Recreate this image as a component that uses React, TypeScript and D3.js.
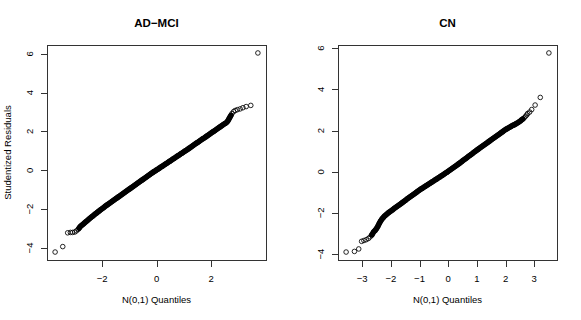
import * as d3 from "d3";

// [theoretical quantile, studentized residual].
// "band" = the dense run where the circles overlap into a solid stroke.
const adMciLowTail: [number, number][] = [
  [-3.72, -4.21], [-3.44, -3.93], [-3.26, -3.22], [-3.16, -3.2], [-3.08, -3.2],
  [-3.0, -3.18], [-2.94, -3.12], [-2.88, -3.05],
];
const adMciBand: [number, number][] = [
  [-2.84, -2.98],
  [-2.8, -2.9], [-2.75, -2.84], [-2.7, -2.78], [-2.65, -2.72], [-2.6, -2.66],
  [-2.55, -2.6], [-2.5, -2.54], [-2.45, -2.48], [-2.4, -2.42], [-2.35, -2.37],
  [-2.3, -2.31], [-2.25, -2.25], [-2.2, -2.2], [-2.15, -2.14], [-2.1, -2.09],
  [-2.05, -2.03], [-2.0, -1.98], [-1.95, -1.93], [-1.9, -1.87], [-1.85, -1.82],
  [-1.8, -1.77], [-1.75, -1.72], [-1.7, -1.67], [-1.65, -1.62], [-1.6, -1.57],
  [-1.55, -1.52], [-1.5, -1.47], [-1.45, -1.42], [-1.4, -1.37], [-1.35, -1.32],
  [-1.3, -1.27], [-1.25, -1.22], [-1.2, -1.17], [-1.15, -1.12], [-1.1, -1.07],
  [-1.05, -1.02], [-1.0, -0.97], [-0.95, -0.92], [-0.9, -0.87], [-0.85, -0.82],
  [-0.8, -0.77], [-0.75, -0.72], [-0.7, -0.67], [-0.65, -0.62], [-0.6, -0.57],
  [-0.55, -0.52], [-0.5, -0.47], [-0.45, -0.42], [-0.4, -0.37], [-0.35, -0.32],
  [-0.3, -0.27], [-0.25, -0.22], [-0.2, -0.17], [-0.15, -0.12], [-0.1, -0.07],
  [-0.05, -0.03], [0.0, 0.02], [0.05, 0.06], [0.1, 0.11], [0.15, 0.16],
  [0.2, 0.2], [0.25, 0.25], [0.3, 0.3], [0.35, 0.34], [0.4, 0.39],
  [0.45, 0.44], [0.5, 0.48], [0.55, 0.53], [0.6, 0.58], [0.65, 0.62],
  [0.7, 0.67], [0.75, 0.72], [0.8, 0.76], [0.85, 0.81], [0.9, 0.86],
  [0.95, 0.9], [1.0, 0.95], [1.05, 1.0], [1.1, 1.04], [1.15, 1.09],
  [1.2, 1.14], [1.25, 1.19], [1.3, 1.24], [1.35, 1.29], [1.4, 1.34],
  [1.45, 1.39], [1.5, 1.43], [1.55, 1.48], [1.6, 1.53], [1.65, 1.58],
  [1.7, 1.63], [1.75, 1.67], [1.8, 1.72], [1.85, 1.77], [1.9, 1.82],
  [1.95, 1.87], [2.0, 1.92], [2.05, 1.97], [2.1, 2.01], [2.15, 2.06],
  [2.2, 2.11], [2.25, 2.16], [2.3, 2.21], [2.35, 2.26], [2.4, 2.31],
  [2.45, 2.36], [2.5, 2.4], [2.55, 2.45],
  [2.6, 2.52], [2.64, 2.62], [2.68, 2.72], [2.72, 2.82],
];
const adMciHighTail: [number, number][] = [
  [2.76, 2.92], [2.82, 3.02], [2.88, 3.08], [2.96, 3.12], [3.06, 3.16],
  [3.16, 3.22], [3.28, 3.28], [3.45, 3.34], [3.71, 6.04],
];

const cnLowTail: [number, number][] = [
  [-3.56, -3.9], [-3.27, -3.87], [-3.12, -3.75], [-3.02, -3.38], [-2.94, -3.34],
  [-2.86, -3.3], [-2.78, -3.24], [-2.72, -3.16],
];
const cnBand: [number, number][] = [
  [-2.66, -3.06],
  [-2.6, -2.92], [-2.55, -2.85], [-2.5, -2.76], [-2.45, -2.64], [-2.4, -2.5],
  [-2.35, -2.38], [-2.3, -2.28], [-2.25, -2.2], [-2.2, -2.13], [-2.15, -2.07],
  [-2.1, -2.01], [-2.05, -1.96], [-2.0, -1.91], [-1.95, -1.86], [-1.9, -1.8],
  [-1.85, -1.75], [-1.8, -1.7], [-1.75, -1.65], [-1.7, -1.6], [-1.65, -1.55],
  [-1.6, -1.5], [-1.55, -1.45], [-1.5, -1.4], [-1.45, -1.34], [-1.4, -1.29],
  [-1.35, -1.24], [-1.3, -1.19], [-1.25, -1.14], [-1.2, -1.09], [-1.15, -1.04],
  [-1.1, -0.99], [-1.05, -0.94], [-1.0, -0.89], [-0.95, -0.84], [-0.9, -0.8],
  [-0.85, -0.75], [-0.8, -0.71], [-0.75, -0.66], [-0.7, -0.62], [-0.65, -0.57],
  [-0.6, -0.53], [-0.55, -0.48], [-0.5, -0.44], [-0.45, -0.39], [-0.4, -0.35],
  [-0.35, -0.3], [-0.3, -0.26], [-0.25, -0.21], [-0.2, -0.17], [-0.15, -0.12],
  [-0.1, -0.07], [-0.05, -0.03], [0.0, 0.02], [0.05, 0.07], [0.1, 0.12],
  [0.15, 0.17], [0.2, 0.22], [0.25, 0.27], [0.3, 0.32], [0.35, 0.37],
  [0.4, 0.42], [0.45, 0.47], [0.5, 0.53], [0.55, 0.58], [0.6, 0.63],
  [0.65, 0.68], [0.7, 0.74], [0.75, 0.79], [0.8, 0.84], [0.85, 0.89],
  [0.9, 0.95], [0.95, 1.0], [1.0, 1.05], [1.05, 1.1], [1.1, 1.15],
  [1.15, 1.2], [1.2, 1.25], [1.25, 1.3], [1.3, 1.35], [1.35, 1.4],
  [1.4, 1.45], [1.45, 1.5], [1.5, 1.55], [1.55, 1.6], [1.6, 1.65],
  [1.65, 1.7], [1.7, 1.75], [1.75, 1.8], [1.8, 1.85], [1.85, 1.9],
  [1.9, 1.95], [1.95, 2.0], [2.0, 2.05], [2.05, 2.09], [2.1, 2.13],
  [2.15, 2.17], [2.2, 2.21], [2.25, 2.25], [2.3, 2.28], [2.35, 2.32],
  [2.4, 2.36], [2.45, 2.4], [2.5, 2.45], [2.55, 2.51], [2.6, 2.56],
];
const cnHighTail: [number, number][] = [
  [2.65, 2.62], [2.7, 2.7], [2.74, 2.76], [2.77, 2.83],
  [2.84, 2.9], [2.91, 3.02], [3.03, 3.24], [3.21, 3.61], [3.51, 5.77],
];

const adMciXTicks = [-2, 0, 2];
const cnXTicks = [-3, -2, -1, 0, 1, 2, 3];
const yTicks = [-4, -2, 0, 2, 4, 6];

const font = "Liberation Sans, Arial, Helvetica, sans-serif";
const minus = (v: number) => (v < 0 ? "\u2212" + Math.abs(v) : String(v));

// R style range: data extent padded by 4% each side
function rRange(vals: number[]): [number, number] {
  const [lo, hi] = d3.extent(vals) as [number, number];
  const pad = (hi - lo) * 0.04;
  return [lo - pad, hi + pad];
}

function QQPanel({
  title,
  lowTail,
  band,
  highTail,
  xTicks,
  left,
  yLabel,
}: {
  title: string;
  lowTail: [number, number][];
  band: [number, number][];
  highTail: [number, number][];
  xTicks: number[];
  left: number;
  yLabel?: string;
}) {
  const top = 45;
  const bottom = 260;
  const right = left + 219;
  const points = [...lowTail, ...band, ...highTail];
  const x = d3.scaleLinear().domain(rRange(points.map((p) => p[0]))).range([left, right]);
  const y = d3.scaleLinear().domain(rRange(points.map((p) => p[1]))).range([bottom, top]);
  const cx = (left + right) / 2;
  const cy = (top + bottom) / 2;
  // overlapping circles in the dense run read as one thick stroke
  const bandPath = d3
    .line<[number, number]>()
    .x((d) => x(d[0]))
    .y((d) => y(d[1]))
    .curve(d3.curveLinear)(band);

  return (
    <g fontFamily={font}>
      <text x={cx} y={27} textAnchor="middle" fontSize={11.5} fontWeight="bold">
        {title}
      </text>
      <path
        d={bandPath ?? ""}
        fill="none"
        stroke="#000"
        strokeWidth={5.6}
        strokeLinecap="round"
        strokeLinejoin="round"
      />
      {points.map((p, i) => (
        <circle
          key={i}
          cx={x(p[0])}
          cy={y(p[1])}
          r={2.3}
          fill="none"
          stroke="#000"
          strokeWidth={0.85}
        />
      ))}
      <rect
        x={left + 0.5}
        y={top + 0.5}
        width={right - left}
        height={bottom - top}
        fill="none"
        stroke="#333"
        strokeWidth={1}
      />
      {xTicks.map((t) => (
        <g key={t}>
          <line
            x1={Math.round(x(t)) + 0.5}
            x2={Math.round(x(t)) + 0.5}
            y1={bottom + 0.5}
            y2={bottom + 7}
            stroke="#333"
          />
          <text x={x(t)} y={282} textAnchor="middle" fontSize={9.5}>
            {minus(t)}
          </text>
        </g>
      ))}
      {yTicks.map((t) => (
        <g key={t}>
          <line
            x1={left - 6}
            x2={left + 0.5}
            y1={Math.round(y(t)) + 0.5}
            y2={Math.round(y(t)) + 0.5}
            stroke="#333"
          />
          <text
            transform={`translate(${left - 14},${y(t)}) rotate(-90)`}
            textAnchor="middle"
            fontSize={9.5}
          >
            {minus(t)}
          </text>
        </g>
      ))}
      <text x={cx} y={303} textAnchor="middle" fontSize={9.5}>
        N(0,1) Quantiles
      </text>
      {yLabel && (
        <text
          transform={`translate(11,${cy}) rotate(-90)`}
          textAnchor="middle"
          fontSize={9.5}
        >
          {yLabel}
        </text>
      )}
    </g>
  );
}

export default function App() {
  return (
    <svg
      width={581}
      height={320}
      style={{ position: "absolute", left: 0, top: 0, background: "#fff" }}
    >
      <QQPanel
        title={"AD\u2212MCI"}
        lowTail={adMciLowTail}
        band={adMciBand}
        highTail={adMciHighTail}
        xTicks={adMciXTicks}
        left={47}
        yLabel="Studentized Residuals"
      />
      <QQPanel
        title="CN"
        lowTail={cnLowTail}
        band={cnBand}
        highTail={cnHighTail}
        xTicks={cnXTicks}
        left={338}
      />
    </svg>
  );
}
